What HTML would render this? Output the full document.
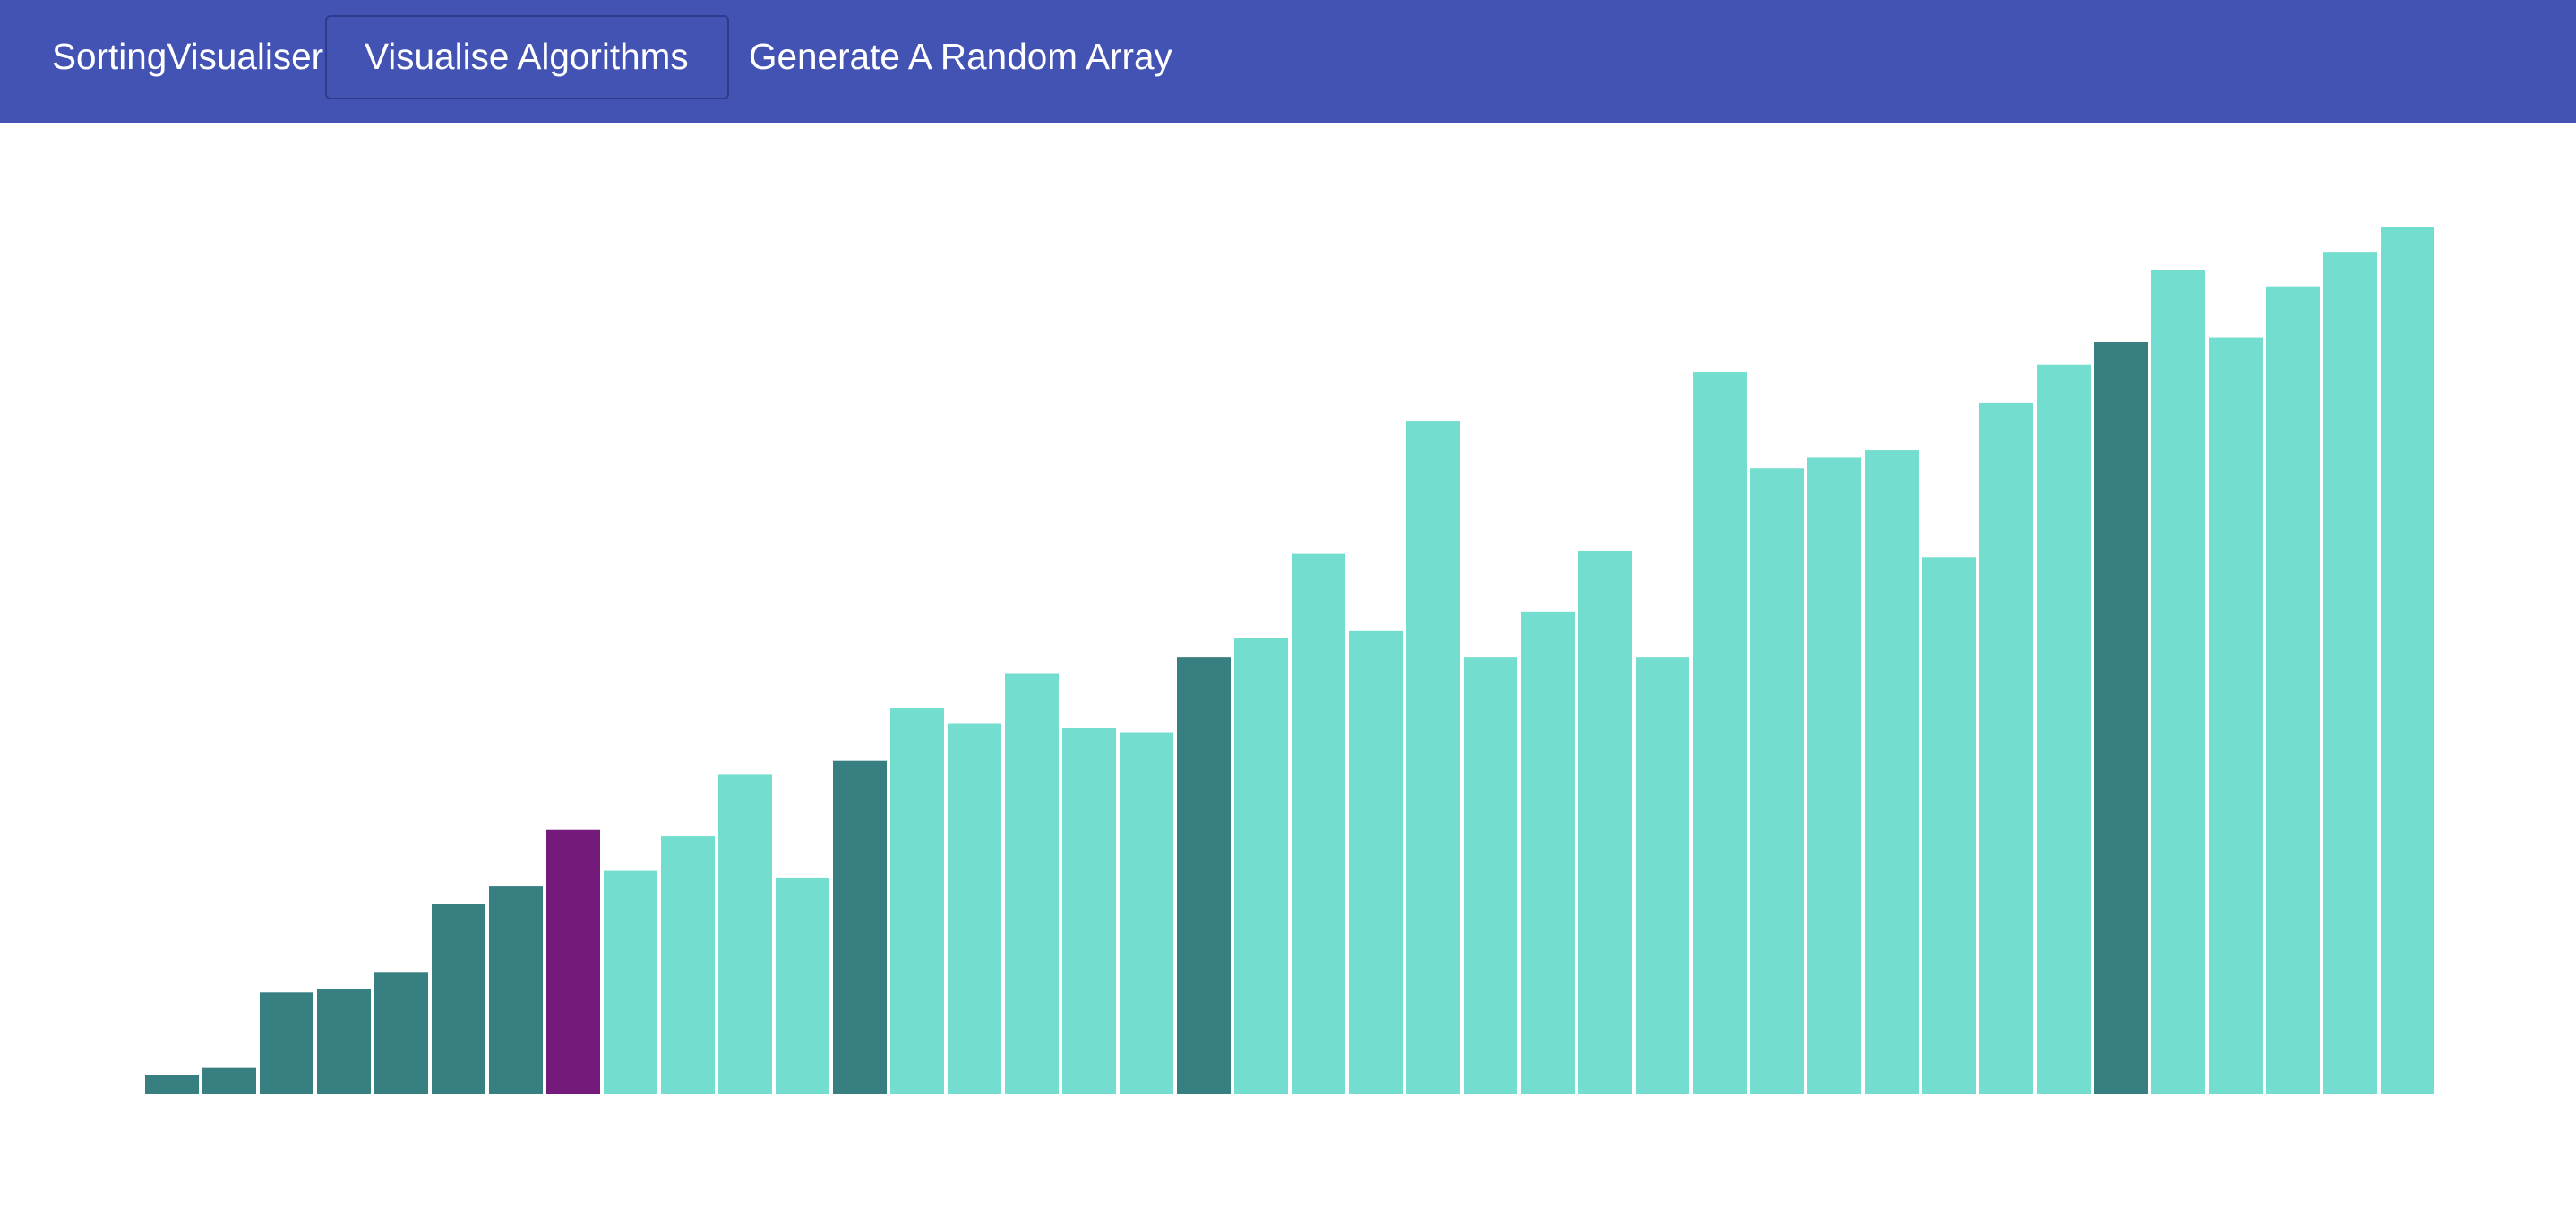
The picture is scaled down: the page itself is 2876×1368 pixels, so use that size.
<!DOCTYPE html>
<html><head><meta charset="utf-8"><style>
html,body{margin:0;padding:0;width:2876px;height:1368px;background:#fff;overflow:hidden;font-family:"Liberation Sans",sans-serif}
#hdr{position:absolute;left:0;top:0;width:2876px;height:137px;background:#4353b3}
.t{position:absolute;color:#fff;font-size:40.5px;top:40px;line-height:46px;white-space:nowrap}
#btn{position:absolute;left:363px;top:17px;width:451px;height:94px;border:2px solid #2c3b8c;border-radius:6px;box-sizing:border-box}
</style></head><body>
<div id="hdr">
<div class="t" style="left:58px">SortingVisualiser</div>
<div id="btn"></div>
<div class="t" style="left:407px">Visualise Algorithms</div>
<div class="t" style="left:836px">Generate A Random Array</div>
</div>
<svg id="chart" width="2876" height="1368" style="position:absolute;left:0;top:0"></svg>
<script>
const values=[12,16,62,64,74,116,127,161,136,157,195,132,203,235,226,256,223,220,266,278,329,282,410,266,294,331,266,440,381,388,392,327,421,444,458,502,461,492,513,528];
const states=["d","d","d","d","d","d","d","p","l","l","l","l","d","l","l","l","l","l","d","l","l","l","l","l","l","l","l","l","l","l","l","l","l","l","d","l","l","l","l","l"];
const colors={d:"#377f80",l:"#73ddcf",p:"#731a7a"};
const baseY=1222,x0=162,pitch=64,bw=60,k=1.834;
function xScale(i){return x0+i*pitch;}
function yScale(v){return baseY-v*k;}
const svg=document.getElementById('chart');
values.forEach((v,i)=>{
const r=document.createElementNS('http://www.w3.org/2000/svg','rect');
r.setAttribute('x',xScale(i));r.setAttribute('y',yScale(v));
r.setAttribute('width',bw);r.setAttribute('height',baseY-yScale(v));
r.setAttribute('fill',colors[states[i]]);


svg.appendChild(r);
});
</script>
</body></html>
